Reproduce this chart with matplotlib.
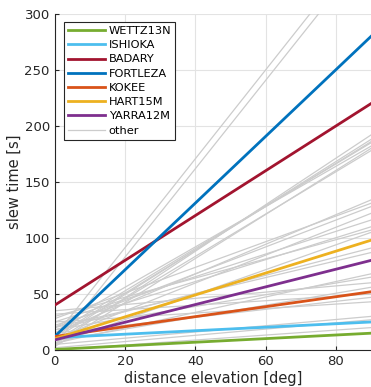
import matplotlib
matplotlib.use("Agg")
import matplotlib.pyplot as plt

# elevation range
elev = [0, 90]

# highlighted stations: slew time at 0 deg and at 90 deg
stations = ["WETTZ13N", "ISHIOKA", "BADARY", "FORTLEZA", "KOKEE", "HART15M", "YARRA12M"]
start_vals = [0.5, 11, 40, 12, 12, 10, 9]
end_vals = [15, 25, 220, 280, 52, 98, 80]
colors = ["#77AC30", "#4DBEEE", "#A2142F", "#0072BD", "#D95319", "#EDB120", "#7E2F8E"]

# other stations (gray)
other_start = [12, 4, 5, 10, 15, 20, 8, 15, 20, 10, 25, 30, 5, 18, 20, 35,
               8, 15, 25, 5, 2, 0, 28, 12, 22, 6, 18, 32, 3]
other_end = [369, 359, 192, 188, 185, 182, 178, 134, 128, 122, 116, 107, 105, 91, 87,
             60, 56, 47, 43, 30, 27, 20, 131, 186, 110, 68, 65, 50, 180]

fig = plt.figure(figsize=(3.71, 3.87), dpi=100)
ax = fig.add_axes([0.1474, 0.0956, 0.8526, 0.8682])

for i in range(len(other_start)):
    lbl = "other" if i == 0 else None
    ax.plot(elev, [other_start[i], other_end[i]], color="#cccccc", lw=0.9, label=lbl, zorder=2)

handles = []
for name, s, e, c in zip(stations, start_vals, end_vals, colors):
    h, = ax.plot(elev, [s, e], color=c, lw=2, label=name, zorder=3)
    handles.append(h)

gray_h = ax.get_lines()[0]
leg = ax.legend(handles + [gray_h], stations + ["other"], loc="upper left",
                bbox_to_anchor=(0.029, 0.976), borderaxespad=0, fontsize=8.2,
                handlelength=3.25, handletextpad=0.35, labelspacing=0.37,
                borderpad=0.35, fancybox=False, framealpha=1)
leg.get_frame().set_edgecolor("#262626")
leg.get_frame().set_linewidth(0.8)

ax.set_xlim(0, 90)
ax.set_ylim(0, 300)
ax.set_xticks([0, 20, 40, 60, 80])
ax.set_yticks([0, 50, 100, 150, 200, 250, 300])
ax.grid(True, color="#e3e3e3", lw=0.8, zorder=0)
ax.set_axisbelow(True)
ax.spines["top"].set_visible(False)
ax.spines["right"].set_visible(False)
for s in ["left", "bottom"]:
    ax.spines[s].set_color("#262626")
    ax.spines[s].set_linewidth(0.8)
ax.tick_params(direction="in", length=3, labelsize=9.5, colors="#262626")
ax.set_xlabel("distance elevation [deg]", fontsize=10.5, color="#262626", labelpad=2)
ax.set_ylabel("slew time [s]", fontsize=10.5, color="#262626", labelpad=2)

fig.savefig("out.png", dpi=100)
